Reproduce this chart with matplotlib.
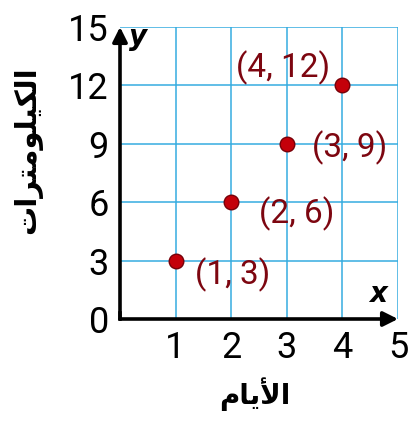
import matplotlib
matplotlib.use("Agg")
import numpy as np
from matplotlib import pyplot as plt

# data
days = [1, 2, 3, 4]
km = [3, 6, 9, 12]
x_ticks = [1, 2, 3, 4, 5]
y_ticks = [0, 3, 6, 9, 12, 15]

# arabic labels, written as presentation forms in visual order
# (matplotlib does no shaping / bidi)
x_label = "\uFEE1\uFE8E\uFEF3\uFEF7\uFE8D"  # الأيام
y_label = "\uFE95\uFE8D\uFEAE\uFE98\uFEE3\uFEEE\uFEE0\uFEF4\uFEDC\uFEDF\uFE8D"  # الكيلومترات

num_font = ['Roboto', 'DejaVu Sans']
grid_blue = '#35ace0'
dot_red = '#c4000a'
text_red = '#7d0610'

fig = plt.figure(figsize=(4.11, 4.25), dpi=100, facecolor='white')
ax = fig.add_axes([120/411, 106/425, 278/411, 292/425])
ax.set_xlim(0, 5)
ax.set_ylim(0, 15)

# grid
for gx in x_ticks:
    ax.axvline(gx, color=grid_blue, lw=1.1, zorder=1)
for gy in y_ticks[1:]:
    ax.axhline(gy, color=grid_blue, lw=1.1, zorder=1)

for s in ax.spines.values():
    s.set_visible(False)

# axes with arrows
ax.annotate('', xy=(0, 15), xytext=(0, 0),
            arrowprops=dict(arrowstyle='-|>', lw=2.6, color='black',
                            mutation_scale=22, shrinkA=0, shrinkB=0),
            annotation_clip=False, zorder=4)
ax.annotate('', xy=(5, 0), xytext=(0, 0),
            arrowprops=dict(arrowstyle='-|>', lw=2.6, color='black',
                            mutation_scale=22, shrinkA=0, shrinkB=0),
            annotation_clip=False, zorder=4)
ax.plot([0, 0], [0, 0.3], color='black', lw=2.6, solid_capstyle='projecting', clip_on=False)

ax.set_xticks(x_ticks)
ax.set_yticks(y_ticks)
ax.tick_params(length=0, pad=8)
for lab in ax.get_xticklabels() + ax.get_yticklabels():
    lab.set_family(num_font)
    lab.set_fontsize(26)

ax.text(0.17, 14.5, 'y', fontsize=20, fontweight='bold', style='italic',
        family='DejaVu Sans', ha='left', va='center')
ax.text(4.64, 1.3, 'x', fontsize=20, fontweight='bold', style='italic',
        family='DejaVu Sans', ha='center', va='center')

# points
ax.plot(days, km, 'o', color=dot_red, markeredgecolor='#780008',
        markeredgewidth=1.0, markersize=10.5, zorder=5, clip_on=False)

offsets = [(41, -10), (47, -8), (45, -3), (-43, 13)]
for xv, yv, off in zip(days, km, offsets):
    ax.annotate(f'({xv}, {yv})', xy=(xv, yv), xytext=off,
                textcoords='offset points', ha='center', va='center',
                fontsize=24, color=text_red, family=num_font, zorder=6)

fig.text(255/411, 1 - 394/425, x_label, fontsize=20, fontweight='bold',
         family='DejaVu Sans', ha='center', va='center')
fig.text(28/411, 1 - 150/425, y_label, fontsize=21, fontweight='bold',
         family='DejaVu Sans', ha='center', va='center', rotation=90)

fig.savefig('out.png', dpi=100, facecolor='white')
